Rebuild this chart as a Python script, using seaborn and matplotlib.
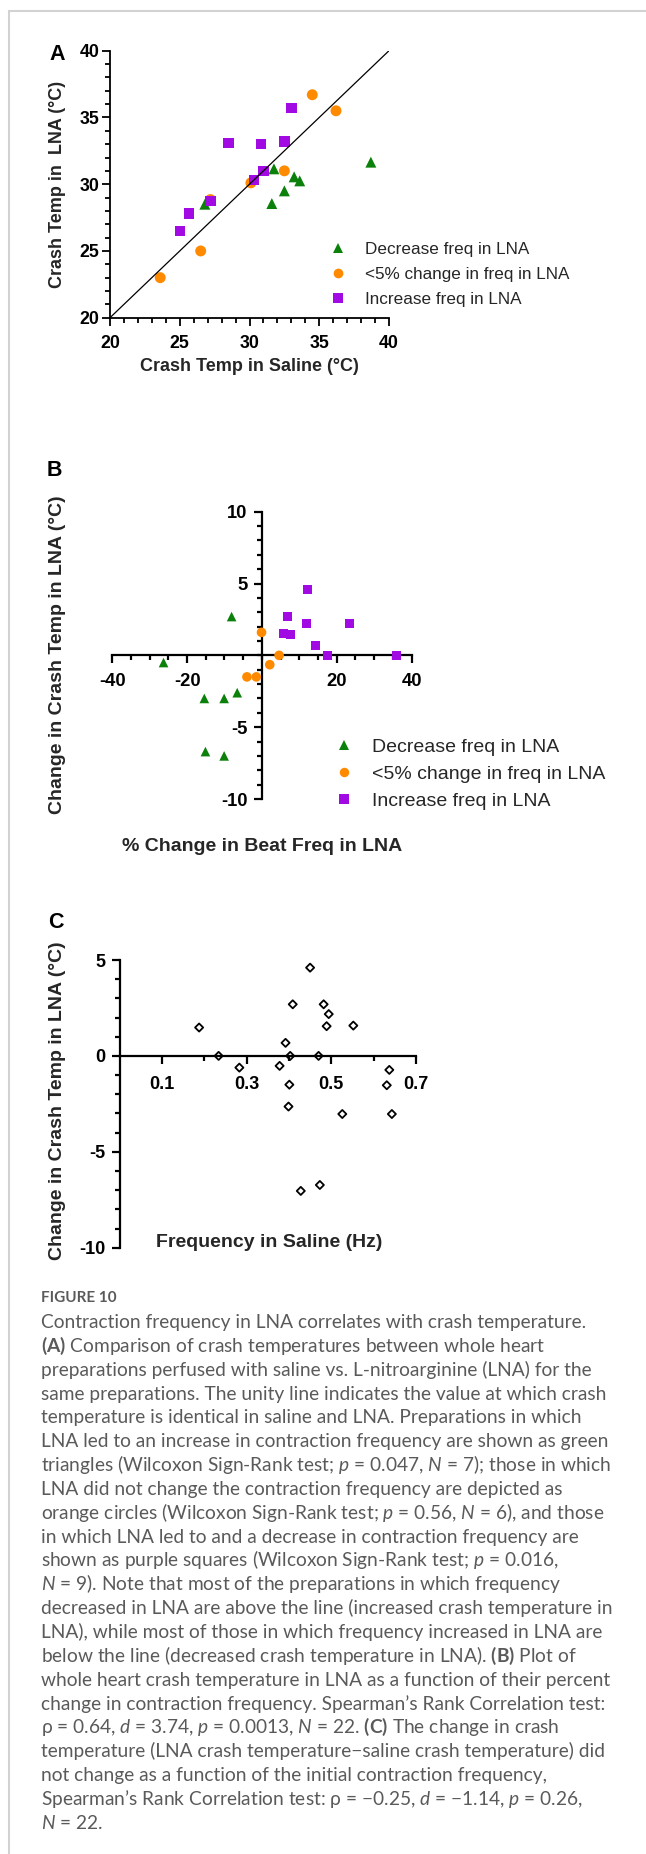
import matplotlib
matplotlib.use("Agg")
import matplotlib.pyplot as plt
import seaborn as sns
from matplotlib.lines import Line2D
from matplotlib.ticker import FixedLocator, MultipleLocator
from matplotlib.transforms import Affine2D

# ---------------- data ----------------
group_labels = ["Decrease freq in LNA", "<5% change in freq in LNA", "Increase freq in LNA"]
group_colors = ["#0b800b", "#ff8a00", "#a20ae3"]
group_markers = ["^", "o", "s"]

# Panel A: crash temperature saline vs LNA (°C)
a_dec_saline = [26.8, 31.75, 38.7, 31.6, 32.5, 33.2, 33.6]
a_dec_lna = [28.5, 31.15, 31.65, 28.55, 29.5, 30.55, 30.25]
a_same_saline = [23.6, 26.5, 27.2, 30.1, 32.5, 34.5, 36.2]
a_same_lna = [23.0, 25.0, 28.85, 30.1, 31.0, 36.7, 35.5]
a_inc_saline = [25.0, 25.65, 27.2, 28.5, 30.8, 32.5, 33.0, 30.3, 31.0]
a_inc_lna = [26.5, 27.8, 28.75, 33.1, 33.0, 33.2, 35.7, 30.3, 31.0]
a_limits = [20, 40]
a_ticks = [20, 25, 30, 35, 40]

# Panel B: % change in beat freq vs change in crash temp
b_dec_pct = [-26.3, -8.1, -15.4, -10.1, -6.6, -15.1, -10.1]
b_dec_dT = [-0.5, 2.7, -3.0, -3.0, -2.6, -6.7, -7.0]
b_same_pct = [-0.1, 4.6, 2.1, -4.0, -1.5]
b_same_dT = [1.6, 0.0, -0.65, -1.5, -1.5]
b_inc_pct = [12.3, 6.8, 11.8, 23.5, 5.9, 7.7, 14.3, 17.6, 35.9]
b_inc_dT = [4.6, 2.7, 2.2, 2.2, 1.55, 1.45, 0.7, 0.0, 0.0]
b_xticks = [-40, -20, 20, 40]
b_yticks = [-10, -5, 5, 10]

# Panel C: frequency in saline vs change in crash temp
c_freq = [0.188, 0.234, 0.283, 0.378, 0.392, 0.403, 0.409, 0.401, 0.399, 0.428, 0.450,
          0.470, 0.473, 0.482, 0.494, 0.489, 0.526, 0.552, 0.637, 0.631, 0.643]
c_dT = [1.48, 0.0, -0.61, -0.52, 0.68, 0.0, 2.69, -1.5, -2.64, -7.04, 4.6,
        0.0, -6.73, 2.69, 2.18, 1.55, -3.03, 1.58, -0.73, -1.53, -3.03]
c_xticks = [0.1, 0.3, 0.5, 0.7]
c_xminor = [0.2, 0.4, 0.6]
c_yticks = [-10, -5, 0, 5]

caption_title = "FIGURE 10"
caption_lines = [
    "Contraction frequency in LNA correlates with crash temperature.",
    r"$\mathbf{(A)}$ Comparison of crash temperatures between whole heart",
    "preparations perfused with saline vs. L-nitroarginine (LNA) for the",
    "same preparations. The unity line indicates the value at which crash",
    "temperature is identical in saline and LNA. Preparations in which",
    "LNA led to an increase in contraction frequency are shown as green",
    r"triangles (Wilcoxon Sign-Rank test; $\mathit{p}$ = 0.047, $\mathit{N}$ = 7); those in which",
    "LNA did not change the contraction frequency are depicted as",
    r"orange circles (Wilcoxon Sign-Rank test; $\mathit{p}$ = 0.56, $\mathit{N}$ = 6), and those",
    "in which LNA led to and a decrease in contraction frequency are",
    r"shown as purple squares (Wilcoxon Sign-Rank test; $\mathit{p}$ = 0.016,",
    r"$\mathit{N}$ = 9). Note that most of the preparations in which frequency",
    "decreased in LNA are above the line (increased crash temperature in",
    "LNA), while most of those in which frequency increased in LNA are",
    r"below the line (decreased crash temperature in LNA). $\mathbf{(B)}$ Plot of",
    "whole heart crash temperature in LNA as a function of their percent",
    "change in contraction frequency. Spearman’s Rank Correlation test:",
    r"ρ = 0.64, $\mathit{d}$ = 3.74, $\mathit{p}$ = 0.0013, $\mathit{N}$ = 22. $\mathbf{(C)}$ The change in crash",
    "temperature (LNA crash temperature−saline crash temperature) did",
    "not change as a function of the initial contraction frequency,",
    r"Spearman’s Rank Correlation test: ρ = −0.25, $\mathit{d}$ = −1.14, $\mathit{p}$ = 0.26,",
    r"$\mathit{N}$ = 22.",
]

# ---------------- style ----------------
sns.set_theme(style="ticks")
plt.rcParams["font.family"] = ["Liberation Sans", "DejaVu Sans"]
plt.rcParams["font.weight"] = "bold"
plt.rcParams["axes.unicode_minus"] = False
plt.rcParams["mathtext.fontset"] = "custom"
plt.rcParams["mathtext.rm"] = "Lato:weight=normal"
plt.rcParams["mathtext.it"] = "Lato:slant=italic:weight=normal"
plt.rcParams["mathtext.bf"] = "Lato:weight=bold"

W, H = 646, 1854
fig = plt.figure(figsize=(W / 100, H / 100), dpi=100)
fig.patch.set_facecolor("white")
PX = Affine2D().scale(1 / W, -1 / H).translate(0, 1) + fig.transFigure


def rect(l, t, r, b):
    return [l / W, 1 - b / H, (r - l) / W, (b - t) / H]


def style_axes(ax, lw, labelsize, xpad, ypad):
    for side in ["top", "right"]:
        ax.spines[side].set_visible(False)
    for side in ["left", "bottom"]:
        ax.spines[side].set_linewidth(lw)
        ax.spines[side].set_color("black")
    ax.tick_params(which="both", direction="out", color="black", width=lw,
                   bottom=True, left=True, labelcolor="black")
    ax.tick_params(which="major", length=6, labelsize=labelsize)
    ax.tick_params(which="minor", length=3.6)
    ax.tick_params(axis="x", which="major", pad=xpad)
    ax.tick_params(axis="y", which="major", pad=ypad)
    ax.set_facecolor("none")


# border (top + left)
fig.add_artist(Line2D([8.5, W], [11, 11], transform=PX, color="#d2d2d2", lw=1.5))
fig.add_artist(Line2D([8.5, 8.5], [11, H], transform=PX, color="#d2d2d2", lw=1.5))

# ---------------- Panel A ----------------
axA = fig.add_axes(rect(110, 50.7, 389, 317.7))
a_sets = [(a_dec_saline, a_dec_lna, 62), (a_same_saline, a_same_lna, 62), (a_inc_saline, a_inc_lna, 55)]
for (xs, ys, sz), col, mk in zip(a_sets, group_colors, group_markers):
    sns.scatterplot(x=xs, y=ys, marker=mk, color=col, s=sz, linewidth=0,
                    edgecolor="none", ax=axA, zorder=2)
axA.plot(a_limits, a_limits, color="black", lw=0.9, zorder=3)
axA.set_xlim(a_limits)
axA.set_ylim(a_limits)
axA.xaxis.set_major_locator(FixedLocator(a_ticks))
axA.yaxis.set_major_locator(FixedLocator(a_ticks))
axA.xaxis.set_minor_locator(MultipleLocator(1))
axA.yaxis.set_minor_locator(MultipleLocator(1))
style_axes(axA, 1.3, 12.8, 6.2, 1.6)
axA.set_xlabel("Crash Temp in Saline (°C)", fontsize=13, fontweight="bold")
axA.xaxis.set_label_coords(249.5, 366.5, transform=PX)
axA.xaxis.label.set_va("center")
axA.set_ylabel("Crash Temp in  LNA (°C)", fontsize=13, fontweight="bold")
axA.yaxis.set_label_coords(57, 184, transform=PX)
axA.yaxis.label.set_va("center")

hA = [Line2D([], [], marker=m, ls="", color=c, markersize=7, markeredgewidth=0)
      for m, c in zip(group_markers, group_colors)]
fig.legend(handles=hA, labels=group_labels, loc="center left", bbox_to_anchor=(329.6, 274.5),
           bbox_transform=PX, frameon=False, handlelength=1.0, handletextpad=1.1,
           borderpad=0, borderaxespad=0, labelspacing=0.6,
           prop={"family": "Liberation Sans", "weight": "normal", "size": 12.3})

# ---------------- Panel B ----------------
axB = fig.add_axes(rect(112.3, 511.7, 411.5, 799))
b_sets = [(b_dec_pct, b_dec_dT, 48), (b_same_pct, b_same_dT, 48), (b_inc_pct, b_inc_dT, 42)]
for (xs, ys, sz), col, mk in zip(b_sets, group_colors, group_markers):
    sns.scatterplot(x=xs, y=ys, marker=mk, color=col, s=sz, linewidth=0,
                    edgecolor="none", ax=axB, zorder=3)
axB.set_xlim(-40, 40)
axB.set_ylim(-10, 10)
axB.spines["left"].set_position(("data", 0))
axB.spines["bottom"].set_position(("data", 0))
axB.xaxis.set_major_locator(FixedLocator(b_xticks))
axB.yaxis.set_major_locator(FixedLocator(b_yticks))
axB.xaxis.set_minor_locator(MultipleLocator(5))
axB.yaxis.set_minor_locator(MultipleLocator(1))
style_axes(axB, 1.6, 13.2, 6.8, 4.2)
axB.set_xlabel("% Change in Beat Freq in LNA", fontsize=14, fontweight="bold")
axB.xaxis.set_label_coords(262, 847, transform=PX)
axB.xaxis.label.set_va("center")
axB.set_ylabel("Change in Crash Temp in LNA (°C)", fontsize=14, fontweight="bold")
axB.yaxis.set_label_coords(57.5, 655, transform=PX)
axB.yaxis.label.set_va("center")

hB = [Line2D([], [], marker=m, ls="", color=c, markersize=6.8, markeredgewidth=0)
      for m, c in zip(group_markers, group_colors)]
fig.legend(handles=hB, labels=group_labels, loc="center left", bbox_to_anchor=(334, 774),
           bbox_transform=PX, frameon=False, handlelength=1.0, handletextpad=0.94,
           borderpad=0, borderaxespad=0, labelspacing=0.48,
           prop={"family": "Liberation Sans", "weight": "normal", "size": 14})

# ---------------- Panel C ----------------
axC = fig.add_axes(rect(119.5, 960, 416, 1247.7))
sns.scatterplot(x=c_freq, y=c_dT, marker="D", s=17, facecolor="none",
                edgecolor="black", linewidth=1.3, ax=axC, zorder=2)
axC.set_xlim(0, 0.7)
axC.set_ylim(-10, 5)
axC.spines["bottom"].set_position(("data", 0))
axC.xaxis.set_major_locator(FixedLocator(c_xticks))
axC.xaxis.set_minor_locator(FixedLocator(c_xminor))
axC.yaxis.set_major_locator(FixedLocator(c_yticks))
axC.yaxis.set_minor_locator(MultipleLocator(1))
style_axes(axC, 1.6, 13.0, 8.6, 4.2)
axC.set_xlabel("Frequency in Saline (Hz)", fontsize=14, fontweight="bold")
axC.xaxis.set_label_coords(269.5, 1243, transform=PX)
axC.xaxis.label.set_va("center")
axC.set_ylabel("Change in Crash Temp in LNA (°C)", fontsize=14, fontweight="bold")
axC.yaxis.set_label_coords(57.5, 1101, transform=PX)
axC.yaxis.label.set_va("center")

# panel letters
for letter, (lx, ly) in zip(["A", "B", "C"], [(57, 55), (54.7, 471), (56, 922.5)]):
    fig.text(lx, ly, letter, transform=PX, ha="center", va="center",
             fontsize=15.5, fontweight="bold", color="black")

# ---------------- caption ----------------
cap_color = "#5a5a5a"
cap_family = ["Lato", "DejaVu Sans"]
fig.text(41, 1302.3, caption_title, transform=PX, ha="left", va="baseline",
         fontsize=11, fontweight="bold", family=cap_family, color=cap_color)

probe = fig.text(41, 1328, caption_lines[0], transform=PX, ha="left", va="baseline",
                 fontsize=12.5, fontweight="normal", family=cap_family, color=cap_color)
renderer = fig.canvas.get_renderer()
wprobe = probe.get_window_extent(renderer).width
cap_size = 12.5 * 549.0 / wprobe
probe.remove()

for i, line in enumerate(caption_lines):
    fig.text(41, 1328 + i * 23.85, line, transform=PX, ha="left", va="baseline",
             fontsize=cap_size, fontweight="normal", family=cap_family, color=cap_color)

fig.savefig("out.png", dpi=100, facecolor="white")
